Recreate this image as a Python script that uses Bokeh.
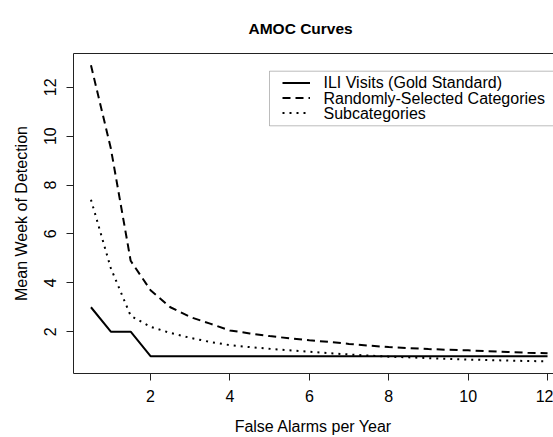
from bokeh.plotting import figure
from bokeh.models import (Range1d, FixedTicker, Legend, LegendItem, LinearAxis, Label,
                          BoxAnnotation)
from bokeh.embed import file_html
from bokeh.resources import INLINE

x_vals = [0.5, 1, 1.5, 2, 2.5, 3, 3.5, 4, 4.5, 5, 5.5, 6, 6.5, 7, 7.5, 8,
          8.5, 9, 9.5, 10, 10.5, 11, 11.5, 12]
ili_gold = [3, 2, 2, 1, 1, 1, 1, 1, 1, 1, 1, 1, 1, 1, 1, 1,
            1, 1, 1, 1, 1, 1, 1, 1]
random_cats = [12.9, 9.5, 4.9, 3.7, 3.0, 2.6, 2.33, 2.05, 1.93, 1.82, 1.73, 1.65,
               1.58, 1.5, 1.43, 1.37, 1.33, 1.29, 1.26, 1.24, 1.2, 1.17, 1.14, 1.12]
subcats = [7.4, 4.6, 2.65, 2.2, 1.95, 1.75, 1.58, 1.45, 1.37, 1.3, 1.24, 1.18,
           1.12, 1.07, 1.02, 0.98, 0.95, 0.92, 0.89, 0.86, 0.84, 0.82, 0.8, 0.79]
x_ticks = [2, 4, 6, 8, 10, 12]
y_ticks = [2, 4, 6, 8, 10, 12]
labels = ["ILI Visits (Gold Standard)", "Randomly-Selected Categories", "Subcategories"]
title_text = "AMOC Curves"
x_title = "False Alarms per Year"
y_title = "Mean Week of Detection"

FONT = "Liberation Sans"

p = figure(width=553, height=437, output_backend="svg", toolbar_location=None,
           x_range=Range1d(0.06, 12.15), y_range=Range1d(0.29, 13.38),
           min_border_left=73, min_border_right=0, min_border_top=53, min_border_bottom=62)
p.outline_line_color = None
p.xgrid.visible = False
p.ygrid.visible = False
p.background_fill_color = "white"
p.border_fill_color = "white"

# title: a trailing blank line lifts the visible line further above the frame
p.title.text = title_text + "\n "
p.title.align = "left"
p.title.offset = 175
p.title.vertical_align = "bottom"
p.title.text_font = FONT
p.title.text_font_size = "15.5px"
p.title.text_font_style = "bold"
p.title.text_color = "black"
p.title.standoff = 0

for ax in (p.xaxis[0], p.yaxis[0]):
    ax.axis_line_color = "#222222"
    ax.major_tick_line_color = "#222222"
    ax.major_tick_out = 7
    ax.major_tick_in = 0
    ax.minor_tick_line_color = None
    ax.major_label_text_font = FONT
    ax.major_label_text_font_size = "16px"
    ax.major_label_text_color = "black"
    ax.axis_label_text_font = FONT
    ax.axis_label_text_font_size = "16px"
    ax.axis_label_text_font_style = "normal"
    ax.axis_label_text_color = "black"

p.xaxis.ticker = FixedTicker(ticks=x_ticks)
p.yaxis.ticker = FixedTicker(ticks=y_ticks)
p.xaxis.axis_label = x_title
p.yaxis.axis_label = y_title
p.yaxis.major_label_orientation = "vertical"
p.xaxis.major_label_standoff = 9
p.xaxis.axis_label_standoff = 13
p.yaxis.major_label_standoff = 10
p.yaxis.axis_label_standoff = 12

top_ax = LinearAxis(ticker=FixedTicker(ticks=[]), major_label_text_font_size="0px",
                    major_tick_line_color=None, minor_tick_line_color=None,
                    axis_line_color="#222222")
p.add_layout(top_ax, "above")

r1 = p.line(x_vals, ili_gold, line_color="black", line_width=2)
r2 = p.line(x_vals, random_cats, line_color="black", line_width=2, line_dash="8 5")
r3 = p.line(x_vals, subcats, line_color="black", line_width=2, line_dash="2 5")

# legend frame (screen units, relative to the plot frame)
p.add_layout(BoxAnnotation(left=196, right=490, bottom=247.7, top=302.3,
                           left_units="screen", right_units="screen",
                           bottom_units="screen", top_units="screen",
                           fill_color="white", fill_alpha=1.0,
                           line_color="#222222", line_width=1))

legend = Legend(items=[LegendItem(label=" ", renderers=[r1]),
                       LegendItem(label=" ", renderers=[r2]),
                       LegendItem(label=" ", renderers=[r3])],
                location=(209, 253.5))
legend.label_text_font_size = "1px"
legend.label_height = 15
legend.glyph_height = 15
legend.glyph_width = 28
legend.label_standoff = 0
legend.label_width = 1
legend.spacing = 0
legend.padding = 0
legend.margin = 0
legend.border_line_color = None
legend.background_fill_alpha = 0
p.add_layout(legend)

for lab, yy in zip(labels, [291, 275.5, 260.5]):
    p.add_layout(Label(x=250, y=yy, x_units="screen", y_units="screen", text=lab,
                       text_align="left", text_baseline="middle", text_font=FONT,
                       text_font_size="16px", text_color="black", level="overlay"))

open("out.html", "w").write(file_html(p, INLINE))
